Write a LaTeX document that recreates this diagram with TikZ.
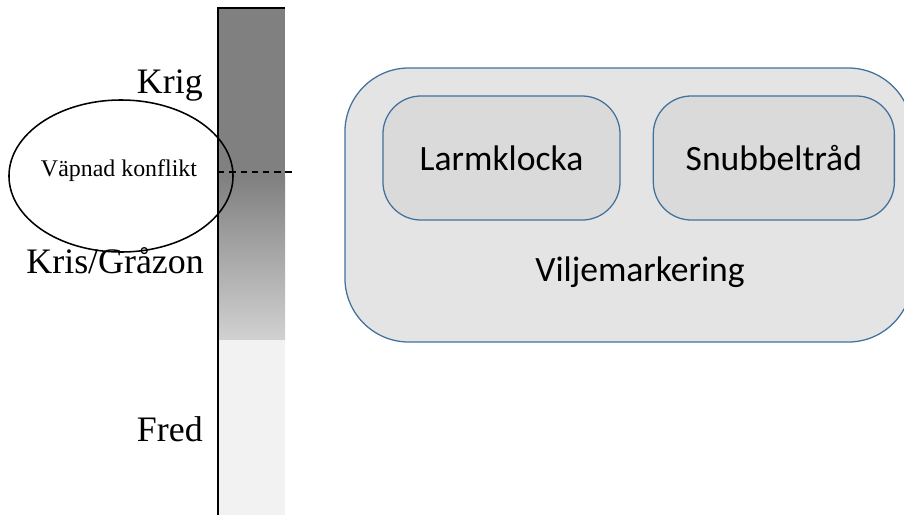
\documentclass[tikz,border=0pt]{standalone}
\usepackage{fontspec}
\setmainfont{Liberation Serif}
\newfontfamily\calibri{Carlito}
\usetikzlibrary{shapes.geometric,positioning,calc}
\definecolor{boxline}{HTML}{41719C}
\definecolor{outerfill}{HTML}{E4E4E4}
\definecolor{innerfill}{HTML}{DADADA}

\begin{document}
\begin{tikzpicture}[x=0.025cm, y=-0.025cm]

\tikzset{
level/.style={font=\fontsize{25.5}{28}\selectfont, anchor=base east, inner sep=0pt},
outer/.style={draw=boxline, fill=outerfill, line width=0.9pt, rounded corners=1.6cm, minimum width=14.175cm, minimum height=6.85cm},
inner/.style={draw=boxline, fill=innerfill, line width=0.9pt, rounded corners=0.95cm, minimum height=3.1cm, font=\calibri\fontsize{25.3}{28}\selectfont},
cut/.style={line width=1pt, dash pattern=on 4.5pt off 3.5pt}
}

\useasboundingbox (0,0) rectangle (904,515);

% Scale bar
\fill[black!50] (218,8) rectangle (285,175);
\shade[top color=black!50, bottom color=black!18] (218,175) rectangle (285,340);
\fill[black!5] (218,340) rectangle (285,515);
\draw[line width=1.4pt] (218,515) -- (218,8) -- (285,8);

% Levels
\node[level] (krig) at (203,93) {Krig};
\node[level] (kris) at (204,273) {Kris/Gråzon};
\node[level] (fred) at (203,441) {Fred};

% Conflict
\coordinate (cutstart) at (218,172);
\coordinate (cutend) at (293,172);
\draw[cut] (cutstart) -- (cutend);
\node[draw, ellipse, line width=1.1pt, minimum width=5.6cm, minimum height=3.8cm, inner sep=0pt] (konflikt) at (121,176) {};
\node[font=\fontsize{17}{20}\selectfont, inner sep=0pt] (konfliktlab) at (119,171) {Väpnad konflikt};

% Will marking
\node[outer] (vilje) at (628.5,205) {};
\node[inner, minimum width=5.925cm] (larm) at (501.5,158) {Larmklocka};
\node[inner, minimum width=6.025cm, right=0.8cm of larm] (snubbel) {Snubbeltråd};
\node[font=\calibri\fontsize{25.3}{28}\selectfont, inner sep=0pt] (viljelab) at (640,272) {Viljemarkering};

\end{tikzpicture}
\end{document}
